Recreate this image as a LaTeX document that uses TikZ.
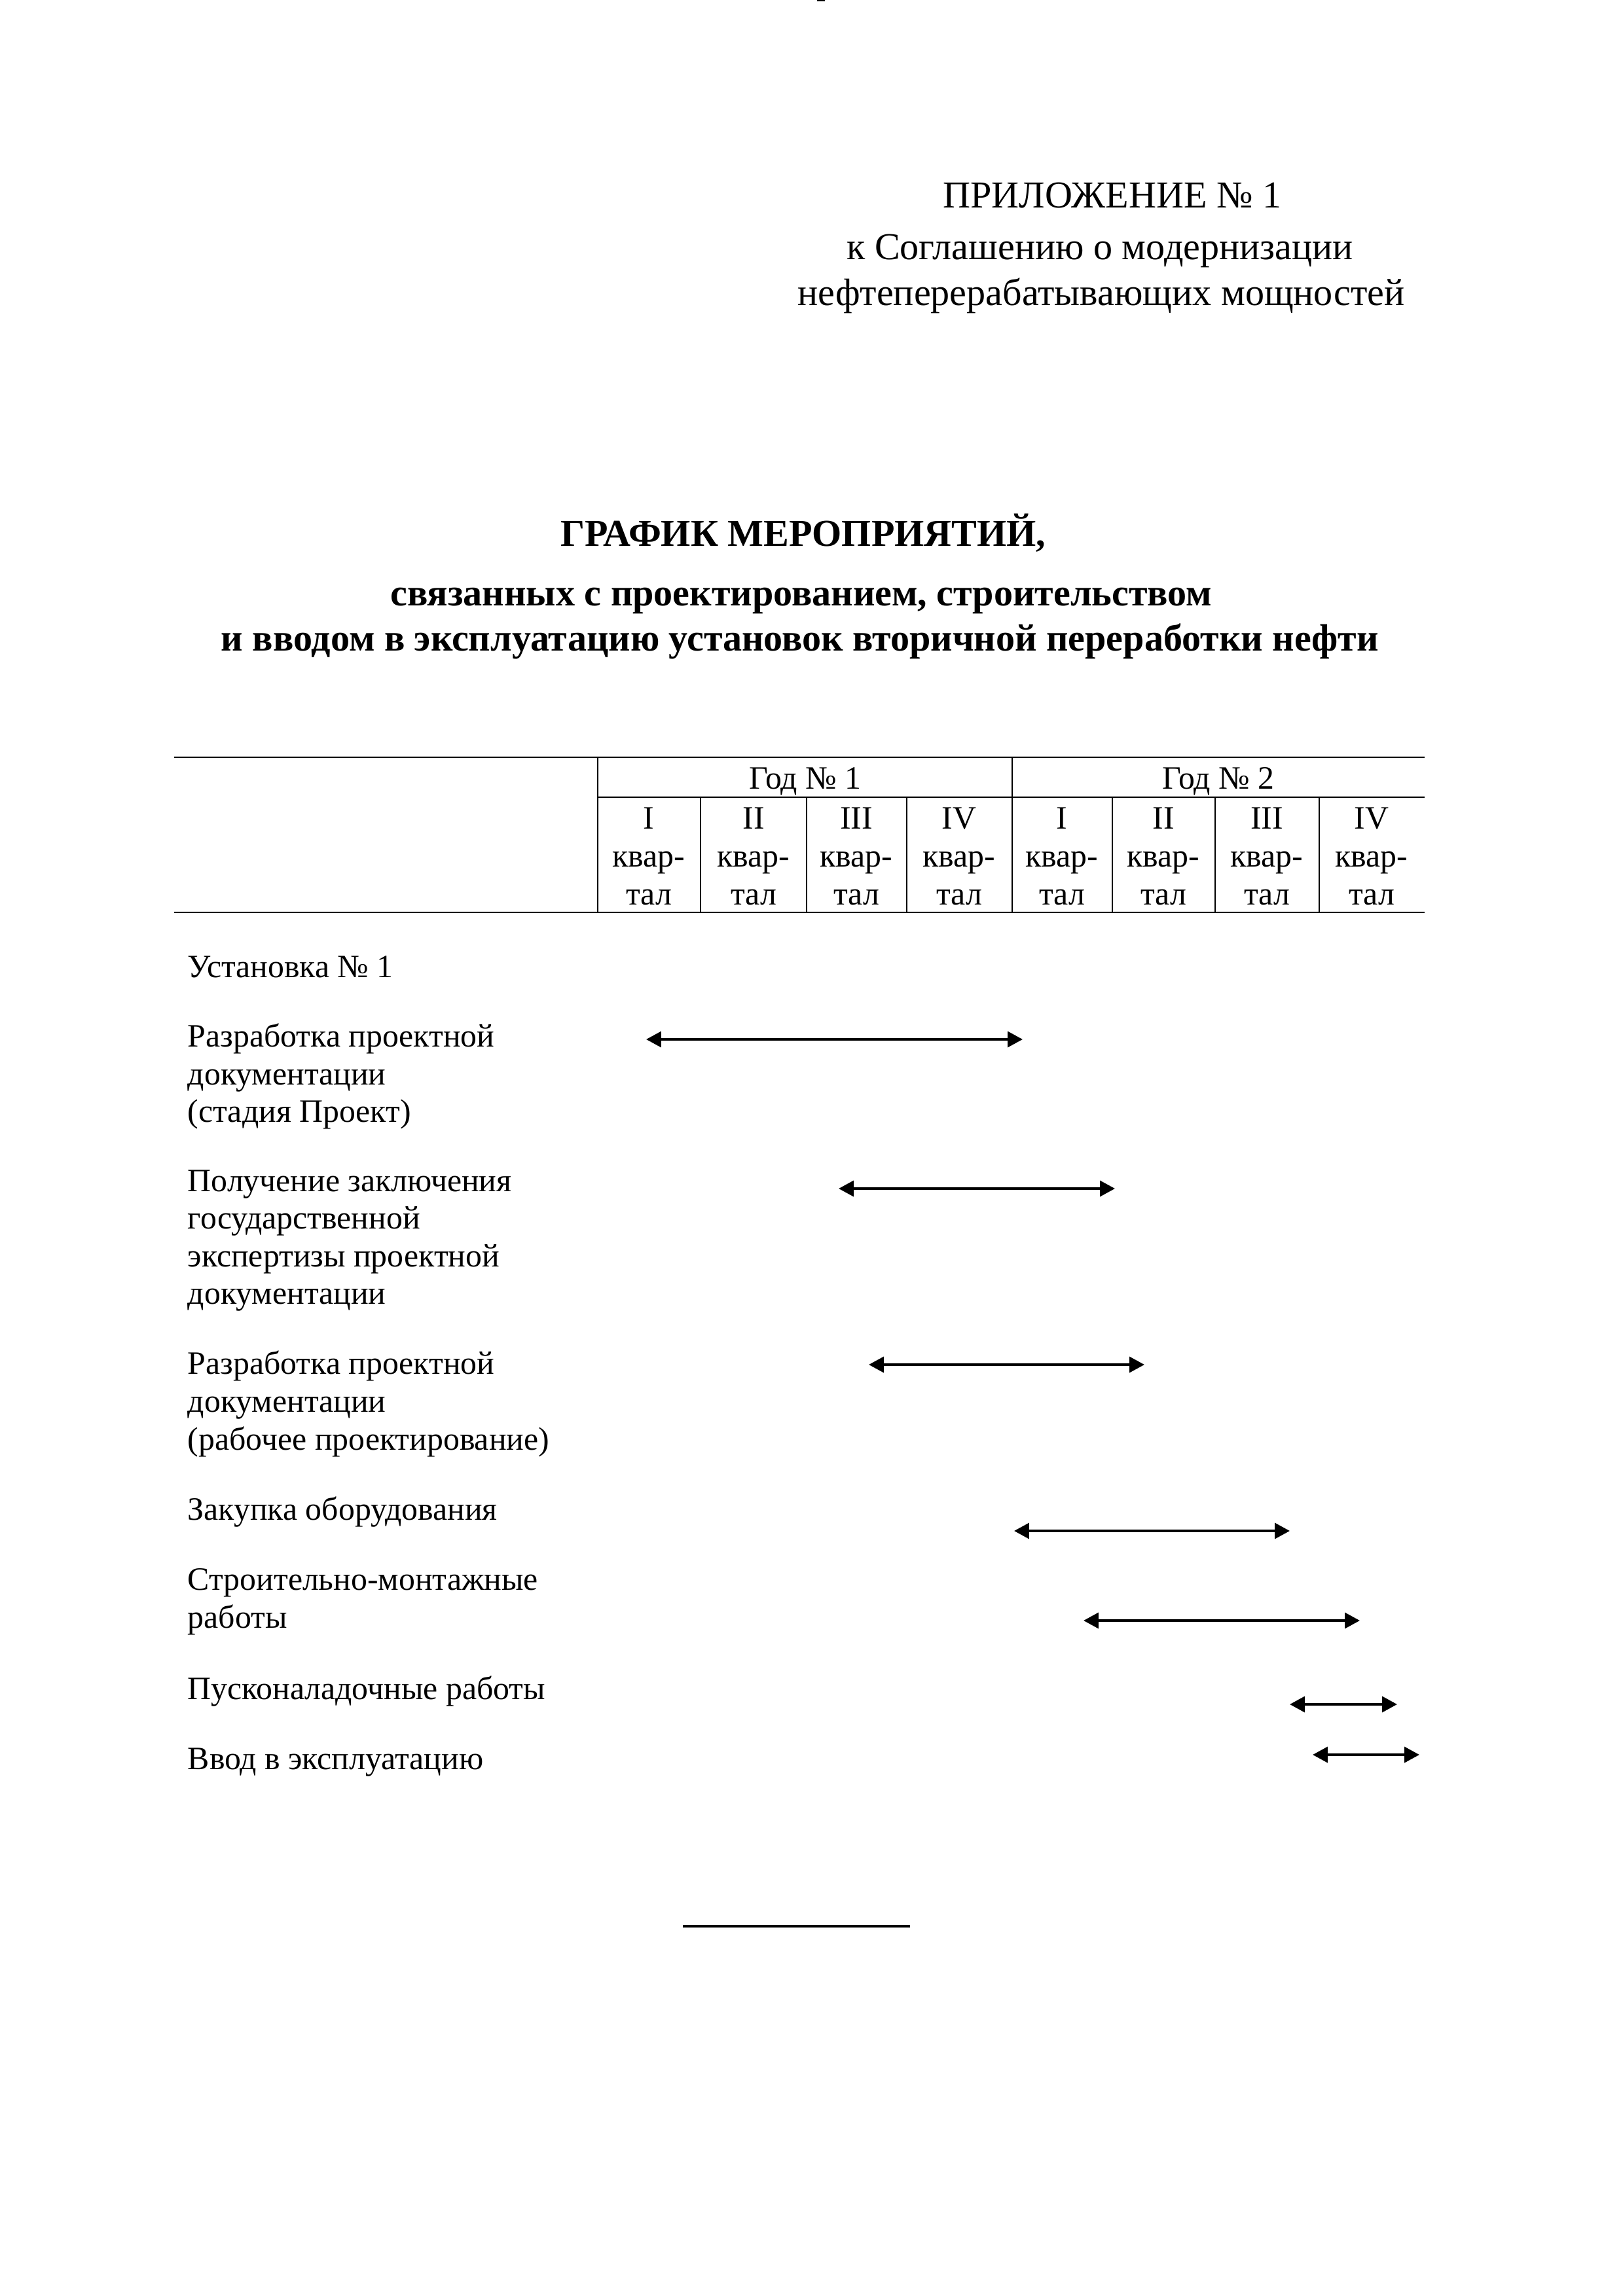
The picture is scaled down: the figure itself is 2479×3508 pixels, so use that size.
\documentclass[tikz,border=0pt]{standalone}
\usepackage{fontspec}
\setmainfont{Liberation Serif}
\usetikzlibrary{arrows.meta}
\begin{document}
\begin{tikzpicture}[x=0.2409pt,y=-0.2409pt,
  hdr/.style={font=\fontsize{14}{16.8}\selectfont, inner sep=0pt, anchor=base},
  ttl/.style={font=\fontsize{14}{16.8}\selectfont\bfseries, inner sep=0pt, anchor=base},
  lbl/.style={font=\fontsize{12}{14}\selectfont, inner sep=0pt, anchor=base west},
  cell/.style={font=\fontsize{12}{14}\selectfont, inner sep=0pt, anchor=base},
  tbl/.style={line width=0.7pt},
  gantt/.style={line width=1pt, {Triangle[length=5.5pt,width=5.7pt]}-{Triangle[length=5.5pt,width=5.7pt]}}]
\useasboundingbox (0,0) rectangle (2479,3508);
% small mark at the top edge
\fill (1248,0) rectangle (1260,2);
% header
\node[hdr] (h1) at (1699,317) {ПРИЛОЖЕНИЕ № 1};
\node[hdr] (h2) at (1680,396) {к Соглашению о модернизации};
\node[hdr] (h3) at (1682,466) {нефтеперерабатывающих мощностей};
% title
\node[ttl] (t1) at (1227,834) {ГРАФИК МЕРОПРИЯТИЙ,};
\node[ttl] (t2) at (1224,925) {связанных с проектированием, строительством};
\node[ttl] (t3) at (1222,994) {и вводом в эксплуатацию установок вторичной переработки нефти};
% table lines
\draw[tbl] (266,1157) -- (2176,1157);
\draw[tbl] (913,1218) -- (2176,1218);
\draw[tbl] (266,1394) -- (2176,1394);
\draw[tbl] (913,1157) -- (913,1394);
\draw[tbl] (1546,1157) -- (1546,1394);
\foreach \xx in {1070,1232,1385,1699,1856,2015}
  \draw[tbl] (\xx,1218) -- (\xx,1394);
\node[cell] (y1) at (1230,1205) {Год № 1};
\node[cell] (y2) at (1861,1205) {Год № 2};
\foreach \cx/\q [count=\i] in {991/I,1151/II,1308/III,1465/IV,1622/I,1777/II,1935/III,2095/IV}{
  \node[cell] (q\i) at (\cx,1266) {\q};
  \node[cell] (k\i) at (\cx,1324) {квар-};
  \node[cell] (t\i) at (\cx,1382) {тал};
}
% labels
\node[lbl] (u1) at (286,1493) {Установка № 1};
\node[lbl] (r1a) at (286,1599) {Разработка проектной};
\node[lbl] (r1b) at (286,1657) {документации};
\node[lbl] (r1c) at (286,1714) {(стадия Проект)};
\node[lbl] (p1a) at (286,1820) {Получение заключения};
\node[lbl] (p1b) at (286,1877) {государственной};
\node[lbl] (p1c) at (286,1935) {экспертизы проектной};
\node[lbl] (p1d) at (286,1992) {документации};
\node[lbl] (r2a) at (286,2099) {Разработка проектной};
\node[lbl] (r2b) at (286,2157) {документации};
\node[lbl] (r2c) at (286,2215) {(рабочее проектирование)};
\node[lbl] (z1) at (286,2322) {Закупка оборудования};
\node[lbl] (s1a) at (286,2429) {Строительно-монтажные};
\node[lbl] (s1b) at (286,2487) {работы};
\node[lbl] (n1) at (286,2596) {Пусконаладочные работы};
\node[lbl] (v1) at (286,2703) {Ввод в эксплуатацию};
% bars
\coordinate (a1s) at (987,1588);  \coordinate (a1e) at (1562,1588);
\coordinate (a2s) at (1281,1816); \coordinate (a2e) at (1703,1816);
\coordinate (a3s) at (1327,2085); \coordinate (a3e) at (1748,2085);
\coordinate (a4s) at (1549,2339); \coordinate (a4e) at (1970,2339);
\coordinate (a5s) at (1655,2476); \coordinate (a5e) at (2077,2476);
\coordinate (a6s) at (1970,2604); \coordinate (a6e) at (2134,2604);
\coordinate (a7s) at (2005,2681); \coordinate (a7e) at (2168,2681);
\foreach \i in {1,...,7} \draw[gantt] (a\i s) -- (a\i e);
% closing rule
\coordinate (e1) at (1043,2943); \coordinate (e2) at (1390,2943);
\draw[line width=0.8pt] (e1) -- (e2);
\end{tikzpicture}
\end{document}
